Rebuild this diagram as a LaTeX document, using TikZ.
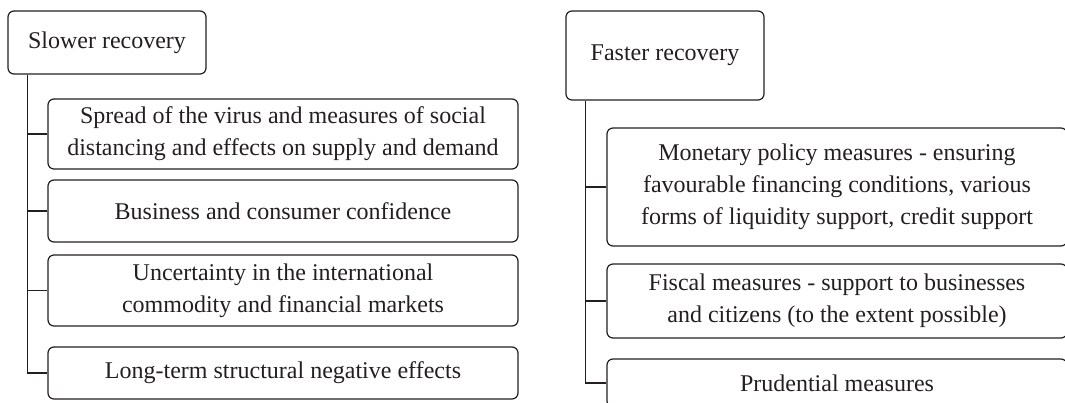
\documentclass[tikz,border=0pt]{standalone}
\usepackage{fontspec}
\setmainfont{Liberation Serif}
\definecolor{ink}{HTML}{231F20}
\begin{document}
\begin{tikzpicture}[x=1pt,y=-1pt,
  box/.style={draw=ink, line width=1.2pt, rounded corners=6pt, align=center,
    text=ink, inner sep=0pt, font=\fontsize{24}{32}\selectfont},
  link/.style={draw=ink, line width=1.3pt}]
\useasboundingbox (0,0) rectangle (1065,403);
\clip (0,0) rectangle (1065,403);
% left tree
\node[box, minimum width=198pt, minimum height=63pt] (s0) at (107,42.5) {Slower recovery};
\node[box, minimum width=470pt, minimum height=70pt] (s1) at (283,134) {Spread of the virus and measures of social\\distancing and effects on supply and demand};
\node[box, minimum width=470pt, minimum height=62pt] (s2) at (283,211) {Business and consumer confidence};
\node[box, minimum width=470pt, minimum height=71pt] (s3) at (283,290.5) {Uncertainty in the international\\commodity and financial markets};
\node[box, minimum width=470pt, minimum height=52pt] (s4) at (283,373) {Long-term structural negative effects};
\draw[link] ([xshift=20pt]s0.south west) |- (s4.west);
\draw[link] ([xshift=20pt]s0.south west) |- (s1.west);
\draw[link] ([xshift=20pt]s0.south west) |- (s2.west);
\draw[link] ([xshift=20pt]s0.south west) |- (s3.west);
% right tree
\node[box, minimum width=198pt, minimum height=89pt] (f0) at (665,55.5) {Faster recovery};
\node[box, minimum width=460pt, minimum height=118pt] (f1) at (837,187) {Monetary policy measures - ensuring\\favourable financing conditions, various\\forms of liquidity support, credit support};
\node[box, minimum width=460pt, minimum height=74pt] (f2) at (837,301) {Fiscal measures - support to businesses\\and citizens (to the extent possible)};
\node[box, minimum width=460pt, minimum height=48pt] (f3) at (837,383) {Prudential measures};
\draw[link] ([xshift=20pt]f0.south west) |- (f3.west);
\draw[link] ([xshift=20pt]f0.south west) |- (f1.west);
\draw[link] ([xshift=20pt]f0.south west) |- (f2.west);
\end{tikzpicture}
\end{document}
